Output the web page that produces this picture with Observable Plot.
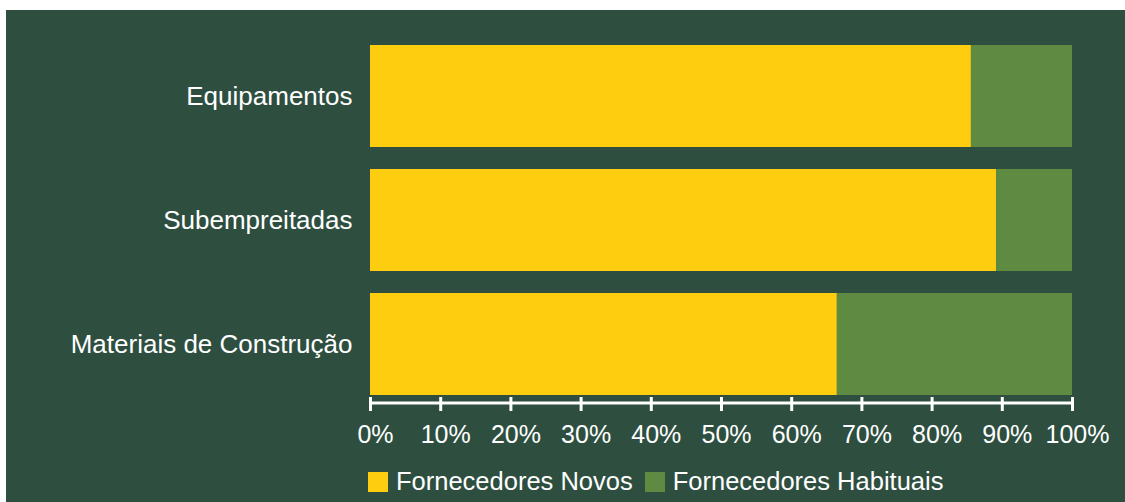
<!DOCTYPE html>
<html>
<head>
<meta charset="utf-8">
<script src="https://cdn.jsdelivr.net/npm/d3@7"></script>
<script src="https://cdn.jsdelivr.net/npm/@observablehq/plot@0.6"></script>
<style>
  html, body { margin: 0; padding: 0; background: #ffffff; }
  body { width: 1125px; height: 502px; position: relative; overflow: hidden; font-family: "Liberation Sans", Arial, sans-serif; }
  #panel { position: absolute; left: 6px; top: 10px; width: 1119px; height: 492px; background: #2e4f40; }
  #chart { position: absolute; left: 0; top: 0; }
  #legend { position: absolute; left: 362px; top: 457px; display: flex; align-items: center; color: #ffffff; font-size: 25.5px; }
  .sw { width: 20px; height: 20px; display: inline-block; margin-right: 8px; }
  .item { display: flex; align-items: center; margin-right: 12px; }
</style>
</head>
<body>
<div id="panel">
  <div id="chart"></div>
  <div id="legend"></div>
</div>
<script>
const categories = ["Equipamentos", "Subempreitadas", "Materiais de Construção"];
const seriesNames = ["Fornecedores Novos", "Fornecedores Habituais"];
const novos = [85.6, 89.2, 66.5];
const habituais = [14.4, 10.8, 33.5];
const colors = ["#fecd10", "#5f8a42"];
const tickValues = [0, 10, 20, 30, 40, 50, 60, 70, 80, 90, 100];

const rows = [];
categories.forEach((c, i) => {
  rows.push({cat: c, series: seriesNames[0], value: novos[i]});
  rows.push({cat: c, series: seriesNames[1], value: habituais[i]});
});

const W = 1119, H = 445, mt = 27, mb = 52, ml = 364, mr = 53;
const frameH = H - mt - mb;

const chart = Plot.plot({
  width: W,
  height: H,
  marginTop: mt,
  marginBottom: mb,
  marginLeft: ml,
  marginRight: mr,
  style: {background: "transparent", color: "#ffffff", fontFamily: "'Liberation Sans', Arial, sans-serif"},
  x: {domain: [0, 100]},
  y: {domain: categories, paddingInner: 0.1774, paddingOuter: 0.0645},
  color: {domain: seriesNames, range: colors},
  marks: [
    Plot.barX(rows, Plot.stackX({y: "cat", x: "value", fill: "series", order: null})),
    Plot.rect([0], {x1: () => 0, x2: () => 100, insetTop: frameH - 1.5, insetBottom: -1.5, insetLeft: -1, insetRight: -1, fill: "#ffffff"}),
    Plot.ruleX(tickValues, {x: d => d, insetTop: frameH - 6, insetBottom: -8, stroke: "#ffffff", strokeWidth: 3}),
    Plot.axisX({ticks: tickValues, tickFormat: d => d + "%", tickSize: 0, tickPadding: 22, fontSize: 25, dx: 5, fill: "#ffffff", label: null}),
    Plot.axisY({tickSize: 0, tickPadding: 18, fontSize: 26, fill: "#ffffff", label: null})
  ]
});
document.getElementById("chart").appendChild(chart);

const legend = document.getElementById("legend");
seriesNames.forEach((s, i) => {
  const item = document.createElement("div");
  item.className = "item";
  const sw = document.createElement("span");
  sw.className = "sw";
  sw.style.background = colors[i];
  const t = document.createElement("span");
  t.textContent = s;
  item.appendChild(sw);
  item.appendChild(t);
  legend.appendChild(item);
});
</script>
</body>
</html>
